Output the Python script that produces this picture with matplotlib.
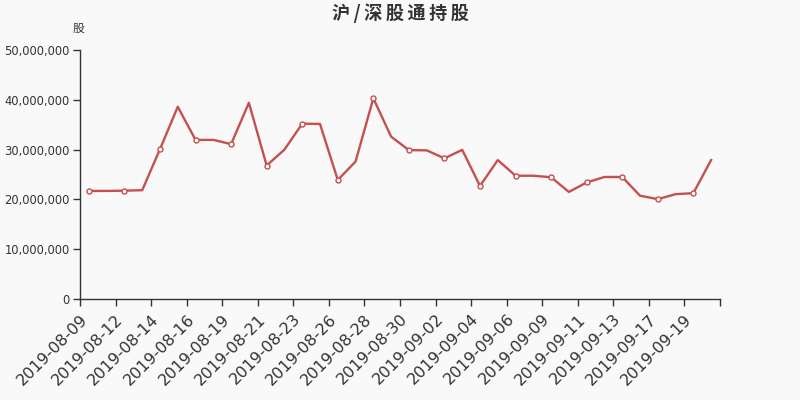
import matplotlib
matplotlib.use("Agg")
import matplotlib.pyplot as plt
from matplotlib.ticker import FuncFormatter

plt.rcParams['font.family'] = ['Noto Sans CJK SC', 'DejaVu Sans']

dates = ['2019-08-09', '2019-08-11', '2019-08-12', '2019-08-13', '2019-08-14', '2019-08-15',
         '2019-08-16', '2019-08-18', '2019-08-19', '2019-08-20', '2019-08-21', '2019-08-22',
         '2019-08-23', '2019-08-25', '2019-08-26', '2019-08-27', '2019-08-28', '2019-08-29',
         '2019-08-30', '2019-09-01', '2019-09-02', '2019-09-03', '2019-09-04', '2019-09-05',
         '2019-09-06', '2019-09-08', '2019-09-09', '2019-09-10', '2019-09-11', '2019-09-12',
         '2019-09-13', '2019-09-16', '2019-09-17', '2019-09-18', '2019-09-19', '2019-09-20']
# holdings in shares
holdings = [21.7e6, 21.7e6, 21.75e6, 21.85e6, 30.1e6, 38.6e6,
            31.95e6, 31.95e6, 31.1e6, 39.4e6, 26.8e6, 30.0e6,
            35.2e6, 35.15e6, 23.9e6, 27.6e6, 40.3e6, 32.6e6,
            29.9e6, 29.85e6, 28.25e6, 29.95e6, 22.7e6, 27.9e6,
            24.75e6, 24.75e6, 24.45e6, 21.5e6, 23.4e6, 24.5e6,
            24.5e6, 20.75e6, 20.05e6, 21.05e6, 21.25e6, 27.9e6]

bg = '#f9f9f9'
line_color = '#c5504e'
axis_color = '#333333'

fig = plt.figure(figsize=(8, 4), dpi=100, facecolor=bg)
ax = fig.add_axes([0.1, 0.2525, 0.8, 0.6225], facecolor=bg)

xs = [i + 0.5 for i in range(len(dates))]
ax.plot(xs, holdings, color=line_color, linewidth=1.7, zorder=2)
# echarts shows symbols on every other point
ax.plot(xs[::2], holdings[::2], linestyle='none', marker='o', markersize=3.6,
        markerfacecolor='white', markeredgecolor=line_color, markeredgewidth=1, zorder=3)

ax.set_xlim(0, len(dates))
ax.set_ylim(0, 50e6)
ax.set_yticks([0, 10e6, 20e6, 30e6, 40e6, 50e6])
ax.yaxis.set_major_formatter(FuncFormatter(lambda v, p: f"{int(v):,}"))

ticks = list(range(0, len(dates) + 1, 2))
labels = [dates[t] if t < len(dates) else '' for t in ticks]
ax.set_xticks(ticks)
ax.set_xticklabels(labels, rotation=45, ha='right', rotation_mode='anchor',
                   fontsize=11.5, color=axis_color, family='DejaVu Sans')
for lab in ax.get_yticklabels():
    lab.set_family('DejaVu Sans')
ax.tick_params(axis='y', labelsize=8.3, colors=axis_color, length=5, width=1, pad=2.5)
ax.tick_params(axis='x', length=5, width=1, colors=axis_color, pad=4)

for s in ['top', 'right']:
    ax.spines[s].set_visible(False)
for s in ['left', 'bottom']:
    ax.spines[s].set_color(axis_color)
    ax.spines[s].set_linewidth(1)

fig.text(0.5, 0.967, '沪 / 深 股 通 持 股'.replace(' ', '\u2009'), ha='center', va='center',
         fontsize=13, fontweight='bold', color=axis_color, family=['Noto Sans CJK SC', 'DejaVu Sans'])
fig.text(0.0975, 0.928, '股', ha='center', va='center', fontsize=8.5, color=axis_color)

plt.savefig('out.png', dpi=100, facecolor=bg)
